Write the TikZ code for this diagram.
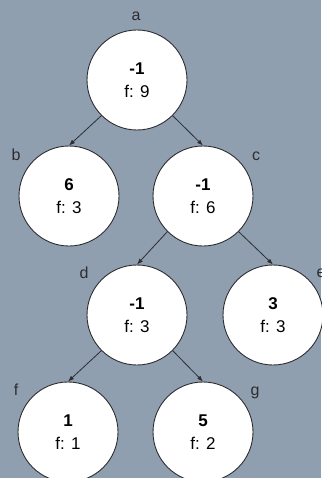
\documentclass[tikz,border=0pt]{standalone}
\usepackage{fontspec}
\setmainfont{Liberation Sans}
\usetikzlibrary{arrows.meta}

\begin{document}
\begin{tikzpicture}[x=1pt,y=-1pt,line cap=round,line join=round,
  vertex/.style={circle,draw=edge,fill=white,line width=0.9pt,minimum size=100pt,
    inner sep=0pt,align=center,font=\fontsize{17}{23}\selectfont},
  tag/.style={inner sep=0pt,font=\fontsize{16}{19}\selectfont,text=edge},
  link/.style={edge,line width=0.8pt,-{Latex[length=6pt,width=4.5pt]}}]
  \definecolor{slate}{RGB}{143,159,176}
  \definecolor{edge}{RGB}{45,45,48}

  % background
  \useasboundingbox (0,0) rectangle (321,478);
  \fill[slate] (0,0) rectangle (321,478);

  % tree vertices
  \node[vertex] (a) at (137,80)  {\textbf{-1}\\f: 9};
  \node[vertex] (b) at (69,196)  {\textbf{6}\\f: 3};
  \node[vertex] (c) at (203,196) {\textbf{-1}\\f: 6};
  \node[vertex] (d) at (137,315) {\textbf{-1}\\f: 3};
  \node[vertex] (e) at (273,315) {\textbf{3}\\f: 3};
  \node[vertex] (f) at (68,432)  {\textbf{1}\\f: 1};
  \node[vertex] (g) at (203,432) {\textbf{5}\\f: 2};

  % vertex names
  \node[tag] (ta) at (136,16)  {a};
  \node[tag] (tb) at (16,155)  {b};
  \node[tag] (tc) at (256,156) {c};
  \node[tag] (td) at (84,273)  {d};
  \node[tag] (te) at (321,273) {e};
  \node[tag] (tf) at (16,390)  {f};
  \node[tag] (tg) at (255,393) {g};

  % edges
  \draw[link] (a.south west) -- (b.north);
  \draw[link] (a.south east) -- (c.north);
  \draw[link] (c.south west) -- (d.north);
  \draw[link] (c.south east) -- (e.north);
  \draw[link] (d.south west) -- (f.north);
  \draw[link] (d.south east) -- (g.north);
\end{tikzpicture}
\end{document}
